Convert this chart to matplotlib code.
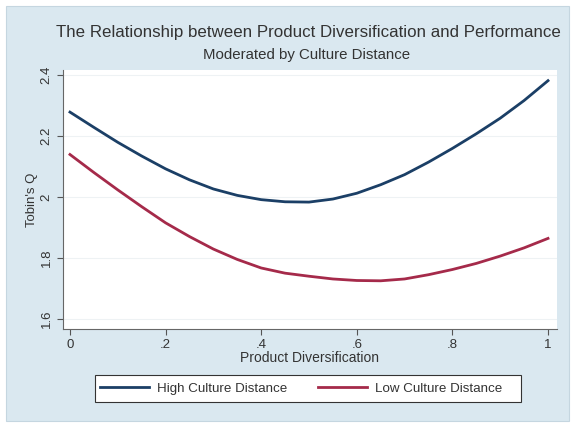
import numpy as np
import matplotlib
matplotlib.use("Agg")
import matplotlib.pyplot as plt
from matplotlib.patches import Rectangle

plt.rcParams['font.family'] = ['Liberation Sans', 'DejaVu Sans']

# values
diversification = [0.00, 0.05, 0.10, 0.15, 0.20, 0.25, 0.30, 0.35, 0.40, 0.45, 0.50,
                   0.55, 0.60, 0.65, 0.70, 0.75, 0.80, 0.85, 0.90, 0.95, 1.00]
high_distance = [2.278, 2.228, 2.179, 2.134, 2.092, 2.056, 2.026, 2.005, 1.991, 1.984, 1.983,
                 1.993, 2.012, 2.040, 2.073, 2.114, 2.159, 2.207, 2.258, 2.316, 2.381]
low_distance = [2.139, 2.080, 2.023, 1.968, 1.915, 1.870, 1.829, 1.795, 1.767, 1.750, 1.740,
                1.731, 1.726, 1.725, 1.731, 1.745, 1.762, 1.782, 1.806, 1.833, 1.864]
series_names = ["High Culture Distance", "Low Culture Distance"]
yticks = [1.6, 1.8, 2.0, 2.2, 2.4]
yticklabels = ["1.6", "1.8", "2", "2.2", "2.4"]
xticks = [0, 0.2, 0.4, 0.6, 0.8, 1.0]
xticklabels = ["0", ".2", ".4", ".6", ".8", "1"]

W, H = 571, 425
fig = plt.figure(figsize=(W / 100, H / 100), dpi=100)
fig.patch.set_facecolor("white")

# light blue graph region
fig.patches.append(Rectangle((6 / W, 1 - 421 / H), (569 - 6) / W, (421 - 6) / H,
                             transform=fig.transFigure, facecolor="#dae8f0",
                             edgecolor="#c5d6e0", linewidth=0.8, zorder=-5))
# legend box
fig.patches.append(Rectangle((95 / W, 1 - 402 / H), (521 - 95) / W, (402 - 375) / H,
                             transform=fig.transFigure, facecolor="white",
                             edgecolor="#333333", linewidth=0.8, zorder=-4))

ax = fig.add_axes([63 / W, 1 - 329 / H, (557 - 63) / W, (329 - 70) / H])
ax.set_zorder(2)
ax.set_facecolor("white")

blue = "#1b3f66"
red = "#a52a4a"
l1, = ax.plot(diversification, high_distance, color=blue, lw=2.0, label=series_names[0])
l2, = ax.plot(diversification, low_distance, color=red, lw=2.0, label=series_names[1])

ax.set_xlim(-0.0146, 1.0188)
ax.set_ylim(1.567, 2.416)
ax.set_yticks(yticks)
ax.set_yticklabels(yticklabels, rotation=90, va="center")
ax.set_xticks(xticks)
ax.set_xticklabels(xticklabels)
ax.tick_params(colors="#555555", labelcolor="#333333", labelsize=9.5, length=4, width=0.8)
ax.grid(axis="y", color="#eef2f4", lw=0.8)
ax.set_axisbelow(True)
for s in ["top", "right"]:
    ax.spines[s].set_visible(False)
for s in ["left", "bottom"]:
    ax.spines[s].set_color("#666666")
    ax.spines[s].set_linewidth(0.8)

ax.set_ylabel("Tobin's Q", fontsize=9.5, color="#333333", labelpad=2)
ax.set_xlabel("Product Diversification", fontsize=10, color="#333333", labelpad=0)

fig.text(308 / W, 1 - 32 / H, "The Relationship between Product Diversification and Performance",
         ha="center", va="center", fontsize=12.2, color="#333333")
fig.text(307 / W, 1 - 55 / H, "Moderated by Culture Distance",
         ha="center", va="center", fontsize=10.8, color="#333333")

# one legend per entry so both labels sit on the same line
for line, name, x0 in [(l1, series_names[0], 100), (l2, series_names[1], 318)]:
    leg = fig.legend([line], [name], loc="center left", bbox_to_anchor=(x0 / W, 1 - 388.5 / H),
                     fontsize=9.6, frameon=False, handlelength=3.7, handletextpad=0.6,
                     borderpad=0, borderaxespad=0)
    for t in leg.get_texts():
        t.set_color("#333333")

fig.savefig("out.png", dpi=100)
